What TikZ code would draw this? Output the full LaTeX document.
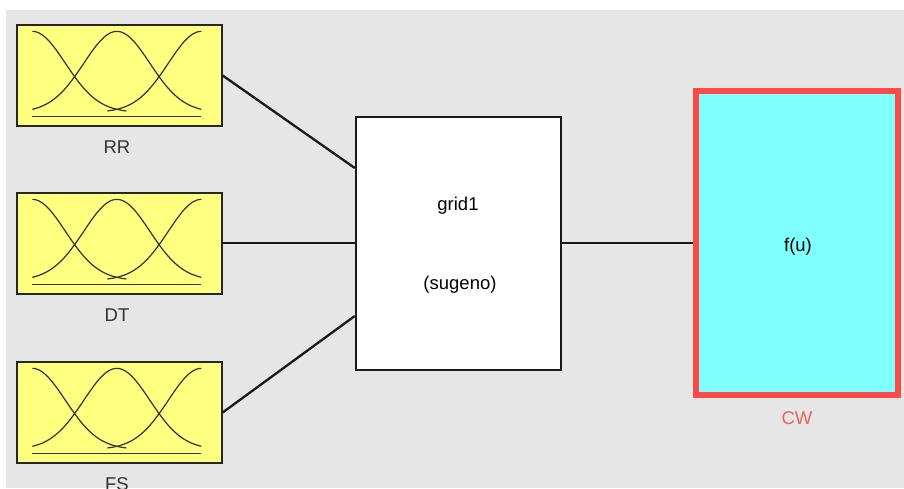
\documentclass[tikz,border=0pt]{standalone}
\usepackage{fontspec}
\setmainfont{Liberation Sans}
\begin{document}
\begin{tikzpicture}[x=1pt,y=-1pt,
  inbox/.style={draw=black!85,line width=1.3pt,fill=mfyellow,minimum width=205pt,minimum height=101pt,inner sep=0pt},
  rulebox/.style={draw=black!90,line width=2.5pt,fill=white,minimum width=205pt,minimum height=253pt,inner sep=0pt},
  outbox/.style={draw=outred,line width=6pt,fill=outcyan,minimum width=202pt,minimum height=304pt,inner sep=0pt},
  lbl/.style={font=\fontsize{18.5}{20}\selectfont,text=black!80,anchor=base,inner sep=0pt},
  txt/.style={font=\fontsize{18.5}{20}\selectfont,text=black,anchor=base,inner sep=0pt},
  conn/.style={line width=2.3pt,black!90},
  mf/.style={line width=1.2pt,black!80}]
\definecolor{mfyellow}{RGB}{255,255,128}
\definecolor{outcyan}{RGB}{128,255,255}
\definecolor{outred}{RGB}{255,72,72}
\definecolor{cwred}{RGB}{240,96,96}
\definecolor{bggrey}{RGB}{230,230,230}
\useasboundingbox (0,0) rectangle (904,488);
\fill[white] (0,0) rectangle (904,488);
\fill[bggrey] (6,10) rectangle (904,488);
% input boxes
\node[inbox] (rr) at (119.5,75.5) {};
\node[inbox] (dt) at (119.5,243.5) {};
\node[inbox] (fs) at (119.5,412.5) {};
\foreach \b in {rr,dt,fs}{
  \begin{scope}[shift={(\b.north west)}]
    \draw[mf,domain=16:110,samples=40,smooth] plot (\x,{88-81*exp(-((\x-16)^2)/2178)});
    \draw[mf,domain=16:185,samples=60,smooth] plot (\x,{88-81*exp(-((\x-100.5)^2)/2178)});
    \draw[mf,domain=91:185,samples=40,smooth] plot (\x,{88-81*exp(-((\x-185)^2)/2178)});
    \draw[mf] (16,92) -- (185,92);
  \end{scope}
}
\node[lbl] (rrl) at (117,153) {RR};
\node[lbl] (dtl) at (117,321) {DT};
\node[lbl] (fsl) at (117,490) {FS};
% rule box
\node[rulebox] (cb) at (458.5,243.5) {};
\node[txt] (g1) at (458,210) {grid1};
\node[txt] (sg) at (460,289) {(sugeno)};
% output box
\node[outbox] (ob) at (797,243) {};
\node[txt] (fu) at (798,251) {f(u)};
\node[txt,text=cwred] (cw) at (797,424) {CW};
% connectors
\coordinate (p1) at (cb.west |- 0,168);
\coordinate (p2) at (cb.west |- 0,243);
\coordinate (p3) at (cb.west |- 0,316);
\coordinate (p4) at (ob.west |- 0,243);
\coordinate (p5) at (cb.east |- 0,243);
\draw[conn] (rr.east) -- (p1);
\draw[conn] (dt.east |- 0,243) -- (p2);
\draw[conn] (fs.east) -- (p3);
\draw[conn] (p5) -- (p4);
\end{tikzpicture}
\end{document}
